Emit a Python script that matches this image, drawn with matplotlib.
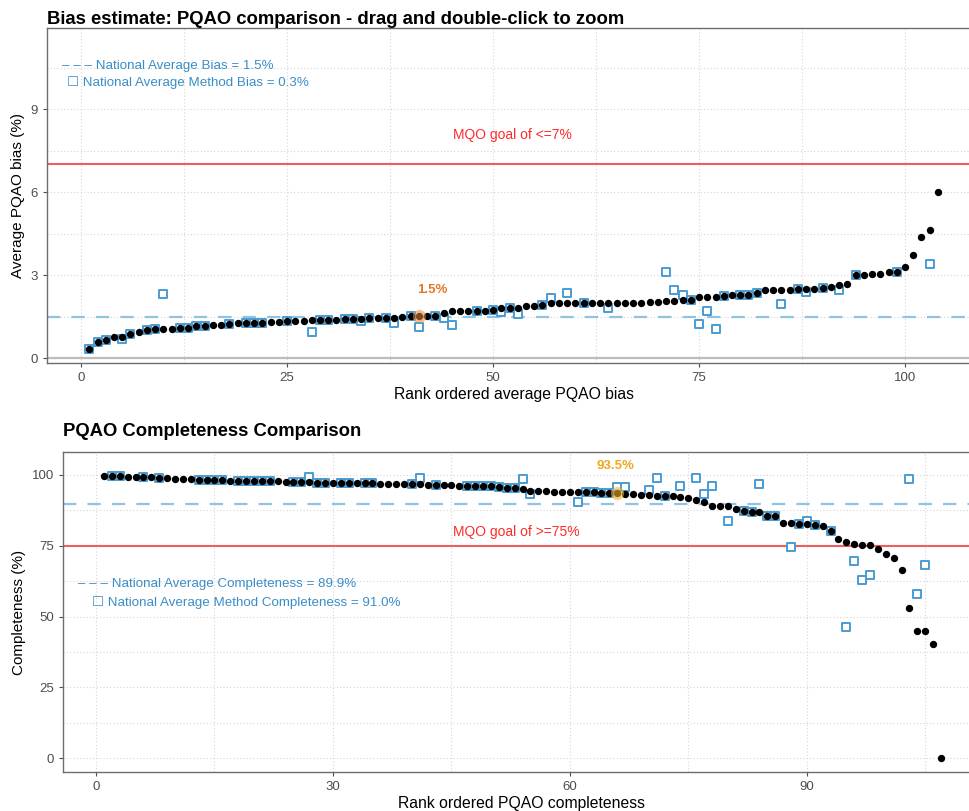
import numpy as np
import matplotlib
matplotlib.use("Agg")
import matplotlib.pyplot as plt
from matplotlib.ticker import MultipleLocator

plt.rcParams['font.family'] = ['Liberation Sans', 'DejaVu Sans']

# ---------------- data: bias ----------------
bias_values = [
    0.33, 0.60, 0.65, 0.77, 0.77, 0.86, 0.96, 1.01, 1.06, 1.06,
    1.06, 1.10, 1.11, 1.15, 1.17, 1.20, 1.20, 1.23, 1.26, 1.26,
    1.28, 1.28, 1.30, 1.31, 1.33, 1.34, 1.34, 1.37, 1.38, 1.40,
    1.40, 1.42, 1.42, 1.43, 1.45, 1.46, 1.46, 1.47, 1.48, 1.51,
    1.52, 1.52, 1.53, 1.64, 1.70, 1.70, 1.70, 1.72, 1.72, 1.76,
    1.81, 1.81, 1.83, 1.88, 1.90, 1.93, 1.98, 1.98, 1.98, 1.98,
    1.98, 1.98, 1.98, 2.00, 2.00, 2.01, 2.01, 2.01, 2.04, 2.04,
    2.07, 2.08, 2.10, 2.10, 2.20, 2.20, 2.22, 2.25, 2.28, 2.28,
    2.30, 2.37, 2.45, 2.45, 2.46, 2.48, 2.49, 2.51, 2.52, 2.55,
    2.57, 2.65, 2.69, 3.01, 3.01, 3.04, 3.06, 3.11, 3.13, 3.28,
    3.73, 4.38, 4.63, 5.99,
]
bias_rank = list(range(1, len(bias_values) + 1))

# method bias: rank -> value (squares)
method_bias_rank = [1, 2, 3, 5, 6, 8, 9, 10, 12, 13, 14, 15, 18, 20, 21, 22, 25, 28, 29, 30,
                    32, 33, 34, 35, 37, 38, 40, 41, 43, 44, 45, 48, 50, 51, 52, 53, 56, 57,
                    59, 61, 64, 71, 72, 73, 74, 75, 76, 77, 78, 80, 81, 82, 85, 87, 88, 90,
                    92, 94, 99, 103]
method_bias_offsets = {5: 0.70, 10: 2.31, 28: 0.96, 34: 1.35, 38: 1.26, 41: 1.12, 44: 1.46,
                       45: 1.20, 51: 1.66, 53: 1.61, 57: 2.18, 59: 2.36, 64: 1.82, 71: 3.11,
                       72: 2.45, 73: 2.27, 75: 1.23, 76: 1.72, 77: 1.06, 85: 1.95, 88: 2.40,
                       92: 2.46, 103: 3.41}
method_bias_values = [method_bias_offsets.get(r, bias_values[r - 1]) for r in method_bias_rank]

national_bias = 1.5
national_method_bias = 0.3
mqo_bias = 7
highlight_bias_rank = 41
highlight_bias_label = "1.5%"

# ---------------- data: completeness ----------------
comp_values = [
    99.6, 99.6, 99.5, 99.4, 99.3, 99.2, 99.2, 99.0, 98.8, 98.7,
    98.5, 98.4, 98.3, 98.3, 98.3, 98.3, 98.0, 97.9, 97.8, 97.8,
    97.8, 97.7, 97.7, 97.6, 97.6, 97.6, 97.4, 97.3, 97.2, 97.2,
    97.1, 97.1, 97.0, 97.0, 97.0, 96.9, 96.9, 96.9, 96.8, 96.8,
    96.7, 96.6, 96.6, 96.5, 96.4, 96.1, 96.1, 96.1, 96.0, 96.0,
    95.9, 95.5, 95.3, 95.2, 94.5, 94.4, 94.2, 94.1, 94.1, 94.0,
    93.9, 93.8, 93.8, 93.6, 93.5, 93.5, 93.3, 93.2, 93.0, 92.9,
    92.7, 92.7, 92.5, 92.3, 91.9, 91.0, 90.5, 89.2, 88.9, 88.9,
    87.9, 87.3, 87.0, 87.0, 85.5, 85.5, 82.9, 82.9, 82.6, 82.6,
    82.3, 82.1, 80.3, 77.3, 76.2, 75.7, 75.3, 75.2, 73.8, 72.2,
    70.8, 66.5, 53.0, 44.9, 44.9, 40.3, 0.0,
]
comp_rank = list(range(1, len(comp_values) + 1))

method_comp_rank = [2, 3, 6, 8, 13, 14, 15, 16, 18, 19, 20, 21, 22, 25, 26, 27, 28, 29, 31, 32,
                    34, 35, 40, 41, 43, 47, 48, 49, 50, 51, 52, 53, 54, 55, 61, 62, 63, 64,
                    65, 66, 67, 70, 71, 72, 74, 76, 77, 78, 80, 82, 83, 84, 85, 86, 88, 89,
                    90, 91, 93, 95, 96, 97, 98, 103, 104, 105]
method_comp_offsets = {27: 99.2, 41: 99.0, 54: 98.5, 55: 93.2, 61: 90.3, 66: 95.9, 67: 95.9,
                       70: 94.7, 71: 99.0, 74: 96.2, 76: 98.9, 77: 93.2, 78: 96.0, 80: 83.9,
                       84: 96.9, 88: 74.4, 90: 83.9, 95: 46.2, 96: 69.5, 97: 63.0, 98: 64.8,
                       103: 98.6, 104: 58.0, 105: 68.1}
method_comp_values = [method_comp_offsets.get(r, comp_values[r - 1]) for r in method_comp_rank]

national_comp = 89.9
national_method_comp = 91.0
mqo_comp = 75
highlight_comp_rank = 66
highlight_comp_label = "93.5%"

# ---------------- styling ----------------
W, H = 969, 811
fig = plt.figure(figsize=(W / 100, H / 100), dpi=100)

def fx(px): return px / W
def fy(py): return 1 - py / H

# panels extend slightly past the right edge of the image (cut off, as in the reference)
ax1 = fig.add_axes([fx(47), fy(363), fx(980 - 47), (363 - 28) / H])
ax2 = fig.add_axes([fx(63), fy(772), fx(979 - 63), (772 - 452) / H])

sq_color = "#4a9bd3"
dash_color = "#8fc3e4"
text_blue = "#3a8dc8"
red = "#f25c5c"
grid_col = "#d6d6d6"

def style(ax):
    for s in ['top', 'left', 'bottom', 'right']:
        ax.spines[s].set_color('#6e6e6e')
        ax.spines[s].set_linewidth(1.0)
    ax.grid(True, which='both', color=grid_col, linestyle=(0, (1, 2)), linewidth=0.8)
    ax.set_axisbelow(True)
    ax.tick_params(axis='both', which='major', direction='out', length=3, color='#4d4d4d',
                   labelcolor='#4d4d4d', labelsize=9.5, width=0.8)
    ax.tick_params(axis='both', which='minor', length=0)

# ---------------- top panel ----------------
style(ax1)
ax1.set_xlim(-4.13, 109.1)
ax1.set_ylim(-0.17, 11.93)
ax1.xaxis.set_major_locator(MultipleLocator(25))
ax1.xaxis.set_minor_locator(MultipleLocator(12.5))
ax1.yaxis.set_major_locator(MultipleLocator(3))
ax1.yaxis.set_minor_locator(MultipleLocator(1.5))

ax1.axhline(0, color='#bdbdbd', linewidth=1.6, zorder=1)
ax1.axhline(mqo_bias, color=red, linewidth=1.5, zorder=2)
ax1.axhline(national_bias, color=dash_color, linewidth=1.6, linestyle=(0, (6, 5)), zorder=2)

ax1.scatter(method_bias_rank, method_bias_values, marker='s', s=26, facecolors='white',
            edgecolors=sq_color, linewidths=1.4, zorder=3)
ax1.scatter(bias_rank, bias_values, s=28, color='black', linewidths=0, zorder=4)
hb = bias_values[highlight_bias_rank - 1]
ax1.scatter([highlight_bias_rank], [hb], s=90, color='#e8883a', alpha=0.55, linewidths=0, zorder=5)
ax1.text(highlight_bias_rank + 1.6, hb + 0.95, highlight_bias_label, color='#e07a28',
         fontsize=9.5, fontweight='bold', ha='center', va='center')

ax1.text(52.4, 8.06, "MQO goal of <=7%", color='#ff2a2a', fontsize=10, ha='center', va='center')
ax1.text(-2.3, 10.55, "– – – National Average Bias = %.1f%%" % national_bias, color=text_blue,
         fontsize=9.6, ha='left', va='center')
ax1.text(-1.7, 9.94, "☐ National Average Method Bias = %.1f%%" % national_method_bias,
         color=text_blue, fontsize=9.6, ha='left', va='center')

ax1.set_xlabel("Rank ordered average PQAO bias", fontsize=11.3, color='black', labelpad=2)
ax1.set_ylabel("Average PQAO bias (%)", fontsize=11, color='black', labelpad=4)
fig.text(fx(47), fy(20), "Bias estimate: PQAO comparison - drag and double-click to zoom",
         fontsize=13.3, fontweight='bold', ha='left', va='center')

# ---------------- bottom panel ----------------
style(ax2)
ax2.set_xlim(-4.18, 111.8)
ax2.set_ylim(-4.9, 108.1)
ax2.xaxis.set_major_locator(MultipleLocator(30))
ax2.xaxis.set_minor_locator(MultipleLocator(15))
ax2.yaxis.set_major_locator(MultipleLocator(25))
ax2.yaxis.set_minor_locator(MultipleLocator(12.5))

ax2.axhline(mqo_comp, color=red, linewidth=1.5, zorder=2)
ax2.axhline(national_comp, color=dash_color, linewidth=1.6, linestyle=(0, (6, 5)), zorder=2)

ax2.scatter(method_comp_rank, method_comp_values, marker='s', s=26, facecolors='white',
            edgecolors=sq_color, linewidths=1.4, zorder=3)
ax2.scatter(comp_rank, comp_values, s=28, color='black', linewidths=0, zorder=4)
hc = comp_values[highlight_comp_rank - 1]
ax2.scatter([highlight_comp_rank], [hc], s=90, color='#f0b030', alpha=0.6, linewidths=0, zorder=5)
ax2.text(highlight_comp_rank - 0.2, hc + 9.7, highlight_comp_label, color='#eea820',
         fontsize=9.5, fontweight='bold', ha='center', va='center')

ax2.text(53.2, 79.9, "MQO goal of >=75%", color='#ff2a2a', fontsize=10, ha='center', va='center')
ax2.text(-2.28, 61.5, "– – – National Average Completeness = %.1f%%" % national_comp,
         color=text_blue, fontsize=9.6, ha='left', va='center')
ax2.text(-0.5, 54.8, "☐ National Average Method Completeness = %.1f%%" % national_method_comp,
         color=text_blue, fontsize=9.6, ha='left', va='center')

ax2.set_xlabel("Rank ordered PQAO completeness", fontsize=11.3, color='black', labelpad=2)
ax2.set_ylabel("Completeness (%)", fontsize=11, color='black', labelpad=4)
fig.text(fx(63), fy(432), "PQAO Completeness Comparison", fontsize=13.3, fontweight='bold',
         ha='left', va='center')

fig.savefig("out.png", dpi=100)
